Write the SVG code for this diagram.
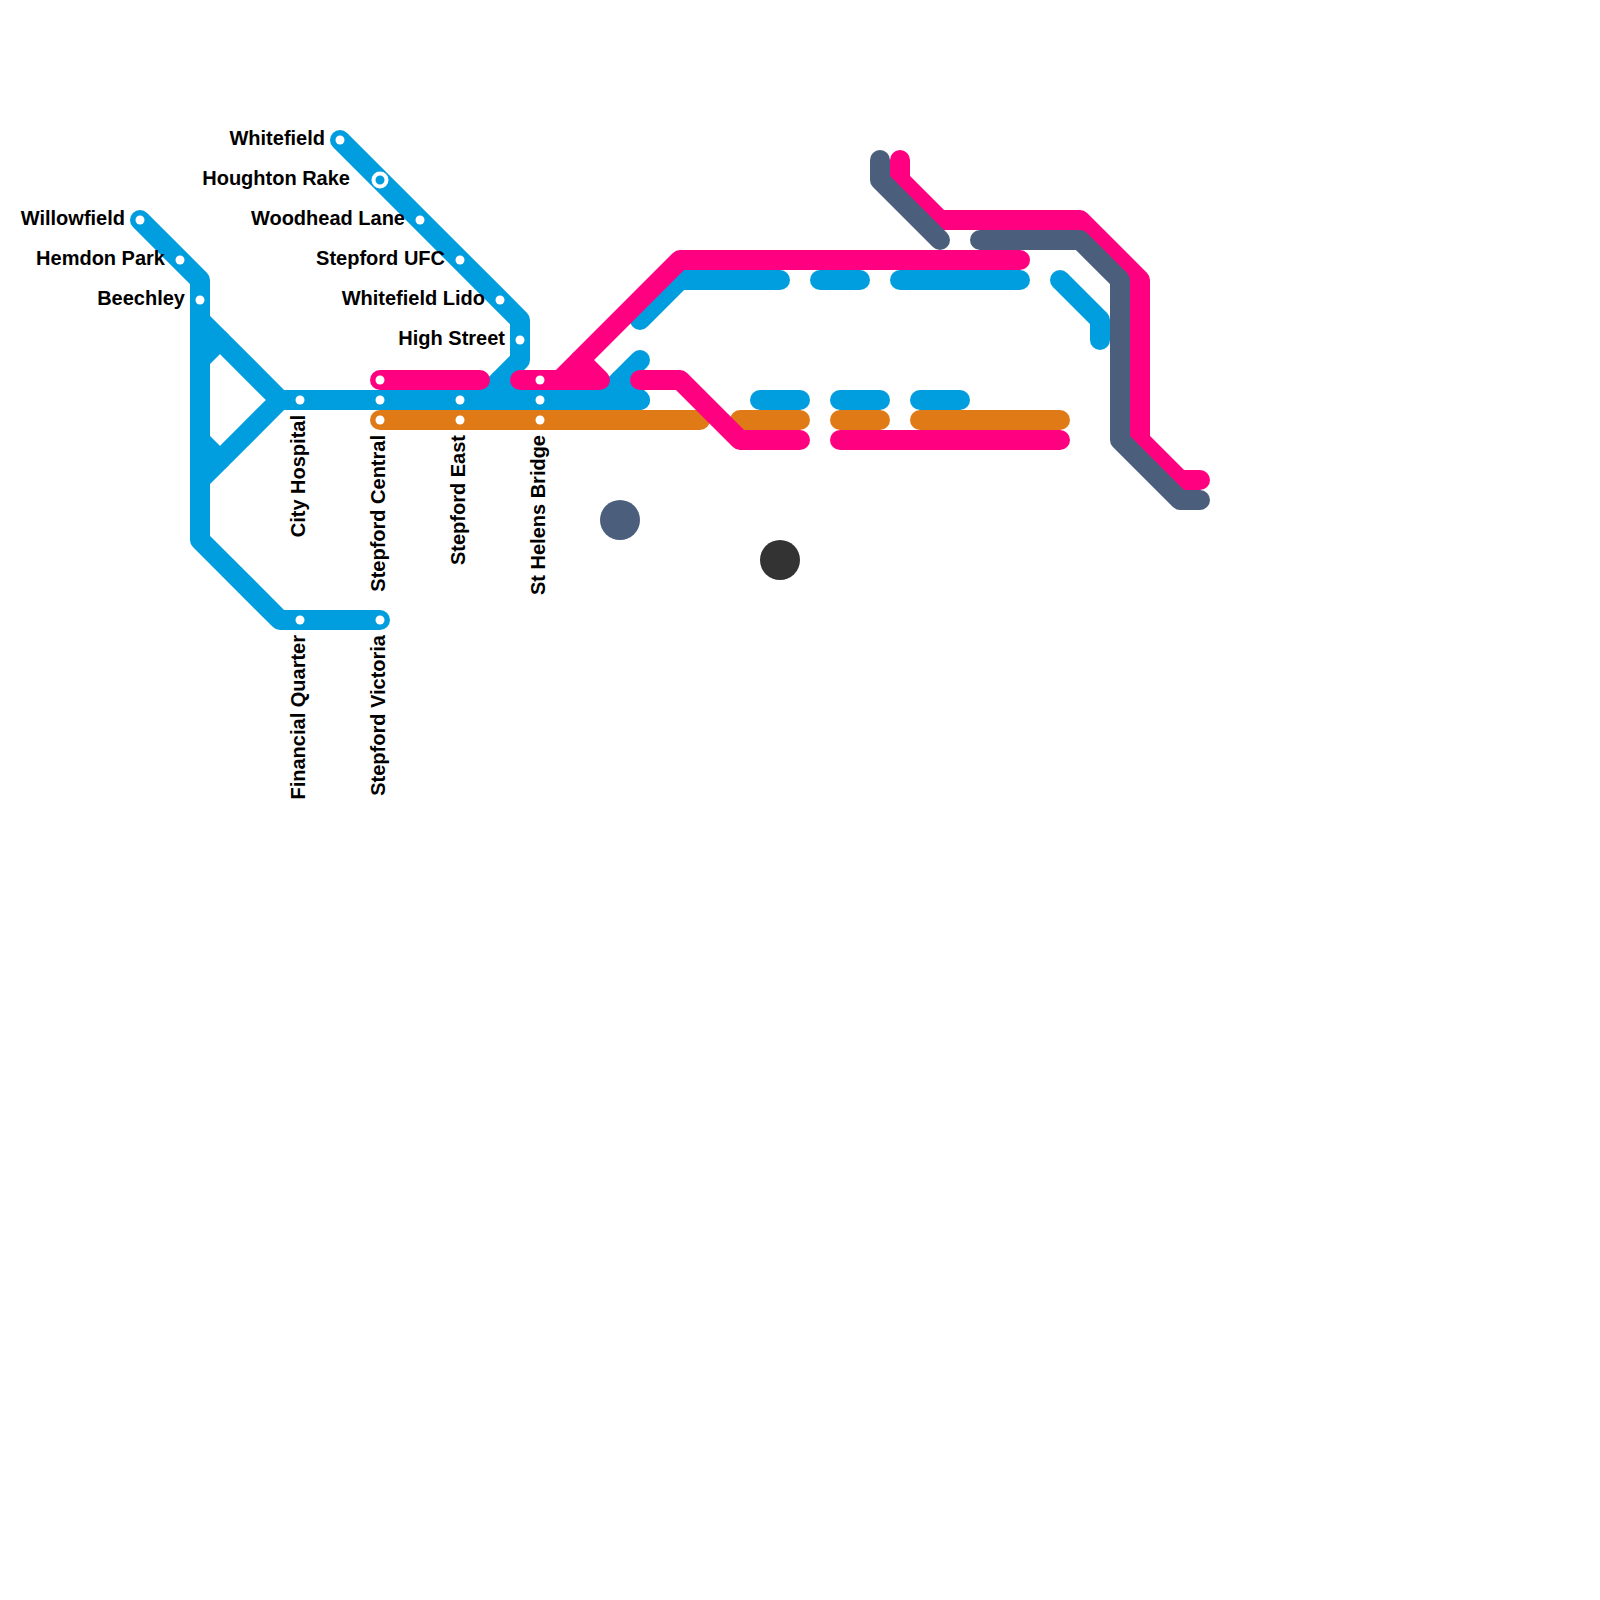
<svg xmlns="http://www.w3.org/2000/svg" width="1600" height="1600" viewBox="0 0 1600 1600">
<style>
.l{fill:none;stroke-width:20;stroke-linecap:round;stroke-linejoin:round}
.b{stroke:#009ddf}.o{stroke:#e07a17}.s{stroke:#4b5f7d}.p{stroke:#ff0080}
.d{fill:#fff}
.i{fill:#009ddf;stroke:#fff;stroke-width:4}
text{font-family:"Liberation Sans",Arial,sans-serif;font-weight:700;font-size:20px;fill:#000}
.e{text-anchor:end}
</style>
<rect width="1600" height="1600" fill="#fff"/>
<g id="connectors">
<path class="l b" d="M140 220L200 280V540L280 620H380"/>
<path class="l b" d="M200 320L280 400H640"/>
<path class="l b" d="M200 480L280 400"/>
<path class="l b" d="M200 360L220 340"/>
<path class="l b" d="M200 440L220 460"/>
<path class="l b" d="M340 140L520 320V360L480 400"/>
<path class="l b" d="M500 380L520 400"/>
<path class="l b" d="M640 360L600 400"/>
<path class="l b" d="M620 380L640 400"/>
<path class="l b" d="M640 320L680 280H780"/>
<path class="l b" d="M820 280H860"/>
<path class="l b" d="M900 280H1020"/>
<path class="l b" d="M1060 280L1100 320V340"/>
<path class="l b" d="M760 400H800"/>
<path class="l b" d="M840 400H880"/>
<path class="l b" d="M920 400H960"/>
<path class="l o" d="M380 420H700"/>
<path class="l o" d="M740 420H800"/>
<path class="l o" d="M840 420H880"/>
<path class="l o" d="M920 420H1060"/>
<path class="l p" d="M380 380H480"/>
<path class="l p" d="M520 380H600L580 360"/>
<path class="l p" d="M560 380L680 260H1020"/>
<path class="l p" d="M640 380H680L740 440H800"/>
<path class="l p" d="M840 440H1060"/>
<path class="l p" d="M900 160V180L940 220H1080L1140 280V440L1180 480H1200"/>
<path class="l s" d="M880 160V180L940 240"/>
<path class="l s" d="M980 240H1080L1120 280V440L1180 500H1200"/>
</g>
<g id="terminal-slate"><circle cx="620" cy="520" r="20" fill="#4b5f7d"/></g>
<g id="terminal-dark"><circle cx="780" cy="560" r="20" fill="#333"/></g>
<g id="willowfield"><circle class="d" cx="140" cy="220" r="4.5"/><text class="e" x="125" y="224.5">Willowfield</text></g>
<g id="hemdon-park"><circle class="d" cx="180" cy="260" r="4.5"/><text class="e" x="165" y="264.5">Hemdon Park</text></g>
<g id="beechley"><circle class="d" cx="200" cy="300" r="4.5"/><text class="e" x="185" y="304.5">Beechley</text></g>
<g id="whitefield"><circle class="d" cx="340" cy="140" r="4.5"/><text class="e" x="325" y="144.5">Whitefield</text></g>
<g id="houghton-rake"><circle class="i" cx="380" cy="180" r="6.5"/><text class="e" x="350" y="184.5">Houghton Rake</text></g>
<g id="woodhead-lane"><circle class="d" cx="420" cy="220" r="4.5"/><text class="e" x="405" y="224.5">Woodhead Lane</text></g>
<g id="stepford-ufc"><circle class="d" cx="460" cy="260" r="4.5"/><text class="e" x="445" y="264.5">Stepford UFC</text></g>
<g id="whitefield-lido"><circle class="d" cx="500" cy="300" r="4.5"/><text class="e" x="485" y="304.5">Whitefield Lido</text></g>
<g id="high-street"><circle class="d" cx="520" cy="340" r="4.5"/><text class="e" x="505" y="344.5">High Street</text></g>
<g id="city-hospital"><circle class="d" cx="300" cy="400" r="4.5"/><text class="e" transform="translate(304.5 415) rotate(-90)">City Hospital</text></g>
<g id="stepford-central"><circle class="d" cx="380" cy="380" r="4.5"/><circle class="d" cx="380" cy="400" r="4.5"/><circle class="d" cx="380" cy="420" r="4.5"/><text class="e" transform="translate(384.5 435) rotate(-90)">Stepford Central</text></g>
<g id="stepford-east"><circle class="d" cx="460" cy="400" r="4.5"/><circle class="d" cx="460" cy="420" r="4.5"/><text class="e" transform="translate(464.5 435) rotate(-90)">Stepford East</text></g>
<g id="st-helens-bridge"><circle class="d" cx="540" cy="380" r="4.5"/><circle class="d" cx="540" cy="400" r="4.5"/><circle class="d" cx="540" cy="420" r="4.5"/><text class="e" transform="translate(544.5 435) rotate(-90)">St Helens Bridge</text></g>
<g id="financial-quarter"><circle class="d" cx="300" cy="620" r="4.5"/><text class="e" transform="translate(304.5 635) rotate(-90)">Financial Quarter</text></g>
<g id="stepford-victoria"><circle class="d" cx="380" cy="620" r="4.5"/><text class="e" transform="translate(384.5 635) rotate(-90)">Stepford Victoria</text></g>
</svg>
